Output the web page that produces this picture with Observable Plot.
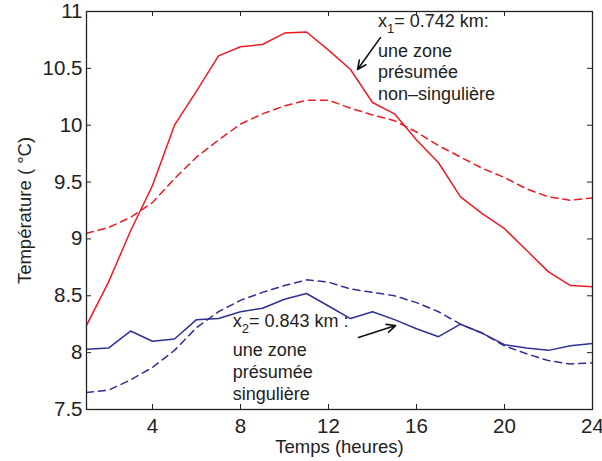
<!DOCTYPE html>
<html><head><meta charset="utf-8">
<script src="https://cdn.jsdelivr.net/npm/d3@7"></script>
<script src="https://cdn.jsdelivr.net/npm/@observablehq/plot@0.6"></script>
<style>body{margin:0;background:#fff;}</style>
</head><body><div id="chart"></div>
<script>
const hours = [1,2,3,4,5,6,7,8,9,10,11,12,13,14,15,16,17,18,19,20,21,22,23,24];
const redSolid   = [8.24,8.62,9.07,9.47,10.00,10.30,10.61,10.69,10.71,10.81,10.82,10.66,10.49,10.20,10.10,9.87,9.67,9.37,9.22,9.09,8.90,8.71,8.59,8.58];
const redDashed  = [9.05,9.10,9.19,9.32,9.53,9.72,9.87,10.01,10.10,10.17,10.22,10.22,10.15,10.09,10.04,9.94,9.82,9.72,9.62,9.54,9.44,9.37,9.34,9.36];
const blueSolid  = [8.03,8.04,8.19,8.10,8.12,8.29,8.30,8.36,8.39,8.47,8.52,8.41,8.30,8.36,8.29,8.21,8.14,8.25,8.17,8.07,8.04,8.02,8.06,8.08];
const blueDashed = [7.65,7.67,7.76,7.87,8.02,8.22,8.36,8.46,8.53,8.59,8.64,8.62,8.56,8.53,8.50,8.44,8.36,8.25,8.17,8.06,7.99,7.93,7.90,7.91];

const xTicks = [4,8,12,16,20,24];
const yTicks = [7.5,8,8.5,9,9.5,10,10.5,11];
const yTickLabels = ["7.5","8","8.5","9","9.5","10","10.5","11"];
const xLabel = "Temps (heures)";
const yLabel = "Température ( °C)";

const note1Head = ["x₁= 0.742 km:"];
const note1Lines = ["une zone","présumée","non–singulière"];
const note2Head = ["x₂= 0.843 km :"];
const note2Lines = ["une zone","présumée","singulière"];
// annotation anchors in data coordinates (hour, °C)
const note1Pos = {x: 14.25, y: 10.86};
const note2Pos = {x: 7.65, y: 8.225};
const arrows = [
  {x1: 14.36, y1: 10.77, x2: 13.32, y2: 10.49},
  {x1: 13.36, y1: 8.133, x2: 15.05, y2: 8.238}
];

const RED = "#ec1c24", BLUE = "#2e3192";
const W = 602, H = 461, ML = 86, MR = 10, MT = 11, MB = 52;
const FW = W - ML - MR, FH = H - MT - MB;
const font = "'Liberation Sans', Arial, Helvetica, sans-serif";

const mk = (vals) => hours.map((h, i) => ({hour: h, temp: vals[i]}));

const plot = Plot.plot({
  width: W, height: H,
  marginLeft: ML, marginRight: MR, marginTop: MT, marginBottom: MB,
  style: {fontFamily: font, background: "#fff", color: "#222"},
  x: {domain: [1, 24]},
  y: {domain: [7.5, 11]},
  marks: [
    Plot.line(mk(redDashed), {x: "hour", y: "temp", stroke: RED, strokeWidth: 1.5, strokeDasharray: "7,5"}),
    Plot.line(mk(redSolid), {x: "hour", y: "temp", stroke: RED, strokeWidth: 1.5}),
    Plot.line(mk(blueDashed), {x: "hour", y: "temp", stroke: BLUE, strokeWidth: 1.5, strokeDasharray: "7,5"}),
    Plot.line(mk(blueSolid), {x: "hour", y: "temp", stroke: BLUE, strokeWidth: 1.5}),
    // inward ticks on all four sides
    Plot.tickX(xTicks, {x: d => d, insetTop: FH - 5, stroke: "#222"}),
    Plot.tickX(xTicks, {x: d => d, insetBottom: FH - 5, stroke: "#222"}),
    Plot.tickY(yTicks, {y: d => d, insetRight: FW - 5, stroke: "#222"}),
    Plot.tickY(yTicks, {y: d => d, insetLeft: FW - 5, stroke: "#222"}),
    Plot.frame({stroke: "#222", strokeWidth: 1.3}),
    Plot.axisX(xTicks, {tickSize: 0, tickPadding: 9, fontSize: 20.5, label: null}),
    Plot.axisY(yTicks, {tickSize: 0, tickPadding: 4, fontSize: 20.5, label: null,
      tickFormat: d => yTickLabels[yTicks.indexOf(d)]}),
    Plot.text([xLabel], {frameAnchor: "bottom", dy: 38, text: d => d, fontSize: 18.5, lineAnchor: "middle", textAnchor: "middle", fill: "#222"}),
    Plot.text([yLabel], {frameAnchor: "left", dx: -61, rotate: -90, text: d => d, fontSize: 18.5, lineAnchor: "middle", textAnchor: "middle", fill: "#222"}),
    // annotations
    Plot.text(note1Head, {x: note1Pos.x, y: note1Pos.y, text: d => d, textAnchor: "start", lineAnchor: "bottom", fontSize: 18, fill: "#222"}),
    Plot.text([note1Lines.join("\n")], {x: note1Pos.x, y: note1Pos.y, dy: 73, text: d => d, textAnchor: "start", lineAnchor: "bottom", lineHeight: 1.22, fontSize: 18, fill: "#222"}),
    Plot.text(note2Head, {x: note2Pos.x, y: note2Pos.y, text: d => d, textAnchor: "start", lineAnchor: "bottom", fontSize: 18, fill: "#222"}),
    Plot.text([note2Lines.join("\n")], {x: note2Pos.x, y: note2Pos.y, dy: 73, text: d => d, textAnchor: "start", lineAnchor: "bottom", lineHeight: 1.22, fontSize: 18, fill: "#222"}),
    Plot.arrow(arrows, {x1: "x1", y1: "y1", x2: "x2", y2: "y2", stroke: "#111", strokeWidth: 1.6, headLength: 9, headAngle: 50})
  ]
});

// render subscripts in the annotation headers
plot.querySelectorAll("text").forEach(t => {
  if (t.children.length) return;
  const m = t.textContent.match(/^x([₁₂])(.*)$/);
  if (!m) return;
  const ns = "http://www.w3.org/2000/svg";
  t.textContent = "x";
  const sub = document.createElementNS(ns, "tspan");
  sub.setAttribute("dy", "6");
  sub.setAttribute("font-size", "13");
  sub.textContent = m[1] === "₁" ? "1" : "2";
  const rest = document.createElementNS(ns, "tspan");
  rest.setAttribute("dy", "-6");
  rest.textContent = m[2];
  t.append(sub, rest);
});

document.getElementById("chart").append(plot);
</script>
</body></html>
